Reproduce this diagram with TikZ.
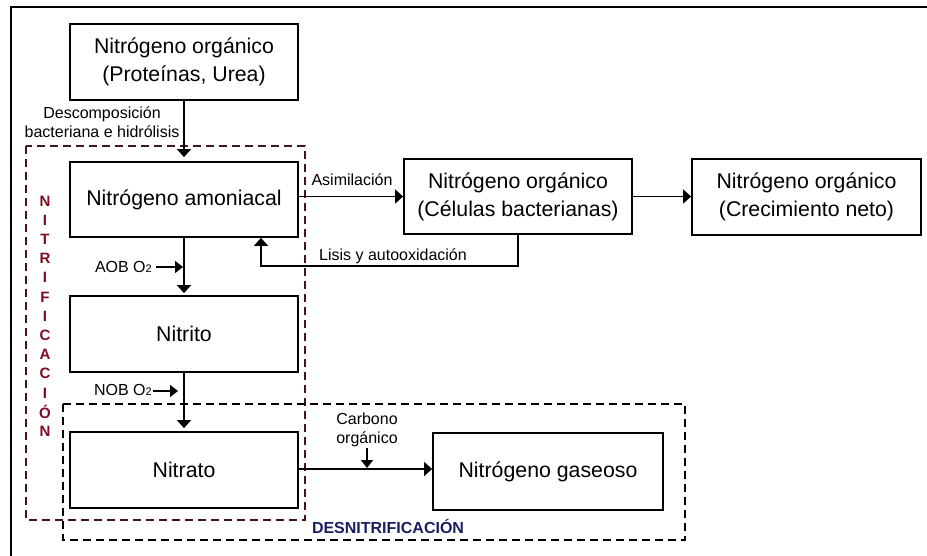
\documentclass[tikz,border=0pt]{standalone}
\usepackage{fontspec}
\setmainfont{Liberation Sans}
\usetikzlibrary{arrows.meta}

\definecolor{nitrired}{RGB}{128,10,30}
\definecolor{nitriframe}{RGB}{70,22,22}
\definecolor{desnblue}{RGB}{25,30,95}

\tikzset{
  procbox/.style={draw, line width=1.8pt, inner sep=0pt, align=center,
    font=\fontsize{21.3}{28}\selectfont},
  flow/.style={line width=1.8pt, -{Triangle[length=8pt,width=14pt]}},
  plainline/.style={line width=1.8pt},
  note/.style={inner sep=0pt, align=center, font=\fontsize{16}{19}\selectfont},
  vletter/.style={inner sep=0pt, text=nitrired, font=\fontsize{15}{15}\selectfont\bfseries},
  zone/.style={line width=1.8pt, dash pattern=on 8pt off 5pt},
}

\newcommand{\oxy}{O{\fontsize{11}{11}\selectfont 2}}

\begin{document}
\begin{tikzpicture}[x=1pt, y=-1pt]
\useasboundingbox (0,0) rectangle (927,556);

% outer frame (open to the right and bottom)
\draw[line width=1.8pt] (11,556) -- (11,7) -- (927,7);

% process boxes
\node[procbox, minimum width=228pt, minimum height=76pt] (org) at (184,62)
  {Nitrógeno orgánico\\(Proteínas, Urea)};
\node[procbox, minimum width=228pt, minimum height=75pt] (amon) at (184,199.5)
  {Nitrógeno amoniacal};
\node[procbox, minimum width=228pt, minimum height=76pt] (nitrito) at (184,334)
  {Nitrito};
\node[procbox, minimum width=228pt, minimum height=76pt] (nitrato) at (184,470)
  {Nitrato};
\node[procbox, minimum width=228pt, minimum height=75pt] (cel) at (518,196.5)
  {Nitrógeno orgánico\\(Células bacterianas)};
\node[procbox, minimum width=229pt, minimum height=76pt] (crec) at (806.5,197)
  {Nitrógeno orgánico\\(Crecimiento neto)};
\node[procbox, minimum width=230pt, minimum height=77pt] (gas) at (548,471.5)
  {Nitrógeno gaseoso};

% process zones
\draw[zone, nitriframe] (26,146) rectangle (305,520);
\draw[zone, black] (63,404) rectangle (685,540);

% zone titles
\foreach \ch [count=\i from 0] in {N,I,T,R,I,F,I,C,A,C,I,Ó,N}
  \node[vletter] (nl\i) at (45,{201+19.2*\i}) {\ch};
\node[inner sep=0pt, text=desnblue, font=\fontsize{16}{16}\selectfont\bfseries]
  (desn) at (388,526) {DESNITRIFICACIÓN};

% main flows
\draw[flow, shorten >=4pt] (org.south) -- (amon.north);
\draw[flow, shorten >=2pt] (amon.south) -- (nitrito.north);
\draw[flow, shorten >=3pt] (nitrito.south) -- (nitrato.north);
\draw[flow] (amon.east |- cel.west) -- (cel.west);
\draw[flow] (cel.east) -- (crec.west |- cel.east);
\draw[flow] (nitrato.east |- 0,469) -- (gas.west |- 0,469);

% recycling through lysis
\coordinate (lis) at (261,266);
\draw[flow] (cel.south) |- (lis) -- (lis |- amon.south);

% flow labels
\node[note] (desc) at (102,122) {Descomposición\\bacteriana e hidrólisis};
\node[note] (asim) at (352,180) {Asimilación};
\node[note] (lisis) at (393,256) {Lisis y autooxidación};
\node[note] (carb) at (367,430) {Carbono\\orgánico};

% oxygen inputs
\node[note, anchor=east] (aob) at (152,267) {AOB \oxy};
\coordinate (aobend) at (183,267);
\draw[flow, -{Triangle[length=8pt,width=12pt]}] ([xshift=4pt]aob.east) -- (aobend);

\node[note, anchor=east] (nob) at (152,390) {NOB \oxy};
\coordinate (nobend) at (178,391);
\draw[flow, -{Triangle[length=8pt,width=12pt]}] ([xshift=1pt]nob.east |- nobend) -- (nobend);

% organic carbon input
\coordinate (carbend) at (367,468);
\draw[flow, -{Triangle[length=8pt,width=12pt]}] (367,448) -- (carbend);

\end{tikzpicture}
\end{document}
